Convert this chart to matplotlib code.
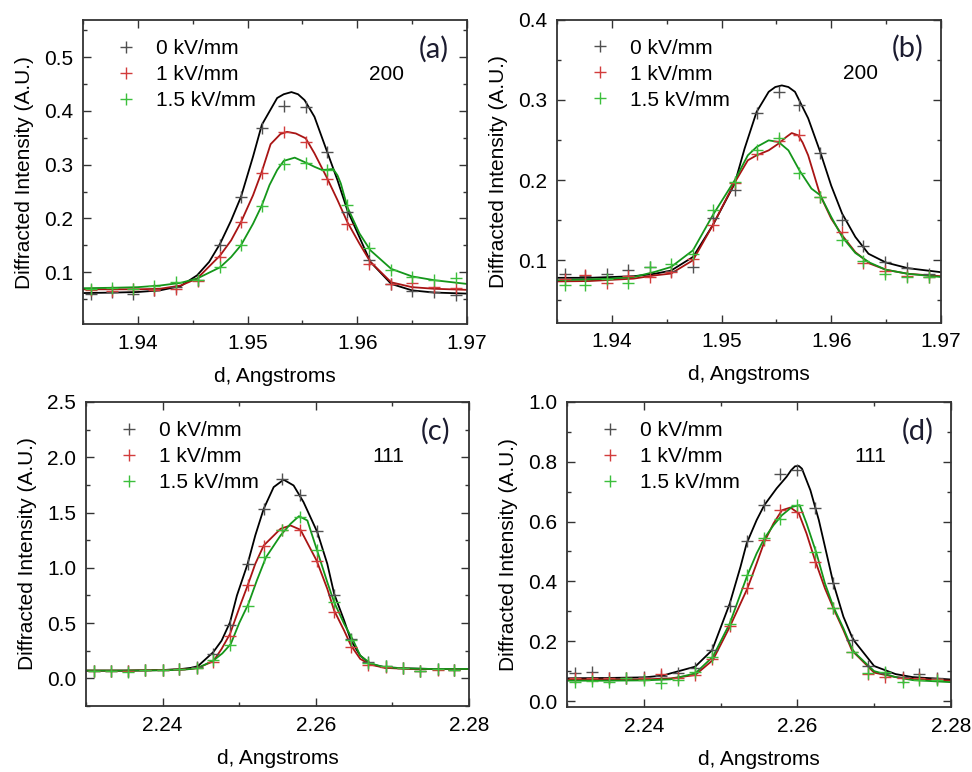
import matplotlib
matplotlib.use("Agg")
import matplotlib.pyplot as plt
from matplotlib.ticker import MultipleLocator

plt.rcParams["font.family"] = ["Liberation Sans", "DejaVu Sans"]

labels = ["0 kV/mm", "1 kV/mm", "1.5 kV/mm"]
panel_tags = ["(a)", "(b)", "(c)", "(d)"]
peak_names = ["200", "200", "111", "111"]

# ---- panel (a): 200 peak ----
a_x = [1.9357, 1.9376, 1.9396, 1.9415, 1.9435, 1.9455, 1.9475, 1.9494, 1.9513,
       1.9533, 1.9553, 1.9572, 1.9591, 1.9611, 1.9631, 1.9650, 1.9670, 1.9690]
a_0 = [0.060, 0.063, 0.059, 0.066, 0.072, 0.086, 0.150, 0.239, 0.369,
       0.410, 0.408, 0.323, 0.212, 0.123, 0.077, 0.065, 0.063, 0.058]
a_1 = [0.066, 0.065, 0.068, 0.067, 0.069, 0.084, 0.129, 0.193, 0.285,
       0.361, 0.343, 0.274, 0.189, 0.116, 0.078, 0.079, 0.072, 0.071]
a_15 = [0.069, 0.071, 0.069, 0.075, 0.081, 0.085, 0.109, 0.150, 0.223,
        0.301, 0.303, 0.290, 0.224, 0.144, 0.104, 0.091, 0.085, 0.089]

a_fit0_x = [1.935, 1.938, 1.940, 1.942, 1.9439, 1.9454, 1.9465, 1.9475, 1.9485, 1.9494,
            1.9505, 1.9513, 1.9520, 1.9527, 1.9533, 1.9540, 1.9546, 1.9552, 1.9561, 1.9572,
            1.9582, 1.9591, 1.9602, 1.9612, 1.9631, 1.965, 1.967, 1.970]
a_fit0_y = [0.061, 0.062, 0.063, 0.066, 0.074, 0.094, 0.119, 0.153, 0.196, 0.240,
            0.315, 0.374, 0.399, 0.424, 0.431, 0.435, 0.431, 0.420, 0.389, 0.327,
            0.271, 0.215, 0.165, 0.119, 0.078, 0.066, 0.062, 0.060]
a_fit1_x = [1.935, 1.938, 1.940, 1.942, 1.9439, 1.9454, 1.9475, 1.9485, 1.9494, 1.9505,
            1.9513, 1.9521, 1.9530, 1.9536, 1.9544, 1.9553, 1.9561, 1.9572, 1.9582, 1.9591,
            1.9602, 1.9612, 1.9631, 1.965, 1.967, 1.970]
a_fit1_y = [0.068, 0.068, 0.068, 0.069, 0.075, 0.088, 0.131, 0.159, 0.193, 0.243,
            0.287, 0.338, 0.357, 0.361, 0.358, 0.349, 0.321, 0.277, 0.234, 0.193,
            0.153, 0.119, 0.081, 0.072, 0.069, 0.067]
a_fit15_x = [1.935, 1.938, 1.940, 1.942, 1.9439, 1.9454, 1.9475, 1.9485, 1.9494, 1.9505,
             1.9513, 1.9520, 1.9527, 1.9533, 1.9543, 1.9555, 1.9561, 1.9568, 1.9574, 1.9578,
             1.9582, 1.9585, 1.9588, 1.9591, 1.9602, 1.9612, 1.9631, 1.965, 1.967, 1.970]
a_fit15_y = [0.070, 0.071, 0.072, 0.075, 0.080, 0.088, 0.109, 0.128, 0.150, 0.190,
             0.224, 0.262, 0.290, 0.307, 0.313, 0.302, 0.296, 0.290, 0.291, 0.292,
             0.280, 0.265, 0.243, 0.221, 0.172, 0.1405, 0.106, 0.092, 0.085, 0.078]

# ---- panel (b): 200 peak ----
b_x = [1.9357, 1.9376, 1.9396, 1.9415, 1.9435, 1.9454, 1.9474, 1.9492, 1.9512,
       1.9532, 1.9552, 1.9571, 1.9590, 1.9610, 1.9629, 1.9649, 1.9669, 1.9689]
b_0 = [0.083, 0.080, 0.0825, 0.088, 0.0915, 0.086, 0.092, 0.152, 0.188,
       0.284, 0.310, 0.293, 0.234, 0.150, 0.118, 0.098, 0.090, 0.083]
b_1 = [0.077, 0.082, 0.072, 0.080, 0.079, 0.085, 0.102, 0.144, 0.196,
       0.232, 0.249, 0.256, 0.179, 0.135, 0.096, 0.087, 0.080, 0.079]
b_15 = [0.069, 0.069, 0.076, 0.071, 0.092, 0.095, 0.108, 0.162, 0.198,
        0.238, 0.252, 0.209, 0.179, 0.125, 0.099, 0.083, 0.079, 0.079]

b_fit0_x = [1.935, 1.938, 1.940, 1.942, 1.9439, 1.9454, 1.9474, 1.9492, 1.9512, 1.9521,
            1.9532, 1.9543, 1.9549, 1.9555, 1.9561, 1.9567, 1.9579, 1.9590, 1.9600, 1.9610,
            1.9622, 1.9634, 1.965, 1.967, 1.970]
b_fit0_y = [0.078, 0.078, 0.079, 0.080, 0.083, 0.087, 0.104, 0.1435, 0.1955, 0.239,
            0.285, 0.310, 0.316, 0.318, 0.316, 0.310, 0.277, 0.235, 0.193, 0.158,
            0.129, 0.108, 0.097, 0.090, 0.085]
b_fit1_x = [1.935, 1.938, 1.940, 1.942, 1.9439, 1.9454, 1.9474, 1.9492, 1.9512, 1.9524,
            1.9532, 1.9543, 1.9552, 1.9559, 1.9564, 1.9570, 1.9574, 1.9579, 1.9590, 1.9600,
            1.9610, 1.9622, 1.9635, 1.965, 1.967, 1.970]
b_fit1_y = [0.0735, 0.074, 0.0755, 0.077, 0.081, 0.0833, 0.0999, 0.1435, 0.1968, 0.2246,
            0.2308, 0.237, 0.2454, 0.2536, 0.2586, 0.2557, 0.2466, 0.2308, 0.181, 0.1519,
            0.131, 0.110, 0.0958, 0.088, 0.083, 0.080]
b_fit15_x = [1.935, 1.938, 1.940, 1.942, 1.9439, 1.9454, 1.9474, 1.9492, 1.9512, 1.9524,
             1.9532, 1.9543, 1.9552, 1.9561, 1.9571, 1.9582, 1.9590, 1.9600, 1.9610, 1.9622,
             1.9635, 1.965, 1.967, 1.970]
b_fit15_y = [0.075, 0.076, 0.077, 0.079, 0.0853, 0.0915, 0.1123, 0.156, 0.1996, 0.2308,
             0.2412, 0.2495, 0.2474, 0.237, 0.2121, 0.1893, 0.181, 0.154, 0.129, 0.109,
             0.097, 0.088, 0.083, 0.079]

# ---- panel (c): 111 peak ----
c_x = [2.2310, 2.2332, 2.2355, 2.2377, 2.2400, 2.2422, 2.2445, 2.2466, 2.2488, 2.2511, 2.2532,
       2.2556, 2.2579, 2.2601, 2.2624, 2.2646, 2.2668, 2.2691, 2.2714, 2.2736, 2.2759, 2.2781]
c_0 = [0.07, 0.07, 0.065, 0.08, 0.08, 0.085, 0.106, 0.221, 0.484, 1.030, 1.528,
       1.806, 1.661, 1.329, 0.758, 0.357, 0.15, 0.11, 0.09, 0.07, 0.085, 0.08]
c_1 = [0.07, 0.07, 0.065, 0.08, 0.08, 0.085, 0.09, 0.145, 0.387, 0.840, 1.199,
       1.344, 1.344, 1.060, 0.598, 0.281, 0.12, 0.10, 0.09, 0.07, 0.08, 0.08]
c_15 = [0.07, 0.07, 0.06, 0.08, 0.08, 0.085, 0.09, 0.167, 0.302, 0.659, 1.096,
        1.338, 1.458, 1.157, 0.688, 0.348, 0.14, 0.11, 0.09, 0.07, 0.085, 0.08]

c_fit0_x = [2.230, 2.235, 2.240, 2.2425, 2.2437, 2.2446, 2.2466, 2.2477, 2.2488, 2.2497,
            2.2511, 2.2521, 2.2532, 2.2545, 2.2558, 2.2571, 2.2584, 2.2602, 2.2615, 2.2624,
            2.2637, 2.2646, 2.2658, 2.2671, 2.269, 2.272, 2.275, 2.280]
c_fit0_y = [0.07, 0.07, 0.075, 0.085, 0.095, 0.11, 0.236, 0.341, 0.507, 0.749,
            1.036, 1.293, 1.534, 1.730, 1.797, 1.745, 1.594, 1.322, 1.036, 0.764,
            0.523, 0.341, 0.206, 0.130, 0.10, 0.09, 0.085, 0.085]
c_fit1_x = [2.230, 2.235, 2.240, 2.2425, 2.2437, 2.2446, 2.2466, 2.2477, 2.2488, 2.2502,
            2.2511, 2.2521, 2.2532, 2.2554, 2.2567, 2.2580, 2.2601, 2.2615, 2.2624, 2.2637,
            2.2646, 2.2658, 2.2671, 2.269, 2.272, 2.275, 2.280]
c_fit1_y = [0.07, 0.07, 0.075, 0.08, 0.085, 0.095, 0.154, 0.266, 0.402, 0.674,
            0.840, 1.036, 1.202, 1.353, 1.383, 1.344, 1.066, 0.810, 0.613, 0.432,
            0.296, 0.176, 0.125, 0.095, 0.085, 0.085, 0.085]
c_fit15_x = [2.230, 2.235, 2.240, 2.2425, 2.2437, 2.2446, 2.2466, 2.2478, 2.2489, 2.2500,
             2.2512, 2.2523, 2.2535, 2.2554, 2.2567, 2.2578, 2.2589, 2.2601, 2.2615, 2.2624,
             2.2637, 2.2649, 2.2658, 2.2671, 2.269, 2.272, 2.275, 2.280]
c_fit15_y = [0.07, 0.07, 0.073, 0.078, 0.085, 0.094, 0.160, 0.226, 0.311, 0.500,
             0.674, 0.885, 1.096, 1.293, 1.398, 1.467, 1.428, 1.172, 0.870, 0.688,
             0.493, 0.341, 0.206, 0.136, 0.10, 0.09, 0.085, 0.085]

# ---- panel (d): 111 peak ----
d_x = [2.2311, 2.2333, 2.2355, 2.2377, 2.2400, 2.2422, 2.2444, 2.2467, 2.2489, 2.2512, 2.2535,
       2.2557, 2.2578, 2.2600, 2.2623, 2.2647, 2.2671, 2.2692, 2.2714, 2.2737, 2.2759, 2.2782]
d_0 = [0.0925, 0.096, 0.076, 0.078, 0.081, 0.085, 0.0925, 0.109, 0.170, 0.317, 0.535,
       0.657, 0.758, 0.772, 0.646, 0.393, 0.204, 0.117, 0.0925, 0.081, 0.089, 0.078]
d_1 = [0.078, 0.076, 0.078, 0.076, 0.076, 0.089, 0.076, 0.087, 0.139, 0.252, 0.379,
       0.538, 0.640, 0.632, 0.466, 0.310, 0.165, 0.089, 0.081, 0.076, 0.076, 0.073]
d_15 = [0.065, 0.067, 0.063, 0.076, 0.070, 0.060, 0.070, 0.098, 0.148, 0.257, 0.421,
        0.544, 0.610, 0.655, 0.499, 0.310, 0.165, 0.095, 0.098, 0.063, 0.070, 0.070]

d_fit0_x = [2.230, 2.235, 2.240, 2.2425, 2.2435, 2.2467, 2.2489, 2.2512, 2.2526, 2.2534,
            2.2547, 2.2557, 2.2573, 2.2586, 2.2592, 2.2597, 2.2602, 2.2606, 2.2617, 2.2628,
            2.2636, 2.2647, 2.2660, 2.2671, 2.2675, 2.270, 2.2728, 2.275, 2.280]
d_fit0_y = [0.076, 0.077, 0.079, 0.085, 0.0925, 0.115, 0.170, 0.326, 0.449, 0.527,
            0.605, 0.655, 0.711, 0.750, 0.772, 0.785, 0.786, 0.777, 0.705, 0.605,
            0.516, 0.393, 0.282, 0.215, 0.198, 0.117, 0.09, 0.08, 0.072]
d_fit1_x = [2.230, 2.235, 2.240, 2.2435, 2.2467, 2.2490, 2.2512, 2.2535, 2.2547, 2.2557,
            2.2569, 2.2580, 2.2591, 2.2602, 2.2612, 2.2623, 2.2636, 2.2647, 2.2660, 2.2671,
            2.2675, 2.270, 2.2728, 2.275, 2.280]
d_fit1_y = [0.072, 0.072, 0.072, 0.0758, 0.0869, 0.137, 0.248, 0.3765, 0.46, 0.532,
            0.594, 0.638, 0.647, 0.627, 0.560, 0.471, 0.3765, 0.310, 0.237, 0.170,
            0.159, 0.095, 0.08, 0.074, 0.068]
d_fit15_x = [2.230, 2.235, 2.240, 2.2435, 2.2467, 2.2490, 2.2512, 2.2535, 2.2547, 2.2557,
             2.2569, 2.2580, 2.2593, 2.2603, 2.2612, 2.2625, 2.2636, 2.2647, 2.2660, 2.2671,
             2.2675, 2.270, 2.2728, 2.275, 2.280]
d_fit15_y = [0.068, 0.068, 0.069, 0.0725, 0.0925, 0.148, 0.2596, 0.421, 0.4935, 0.5436,
             0.588, 0.6214, 0.649, 0.655, 0.594, 0.4935, 0.393, 0.315, 0.243, 0.176,
             0.161, 0.10, 0.08, 0.07, 0.063]

marker_colors = ["#505050", "#d23c3c", "#3cbf3c"]
line_colors = ["#000000", "#a81414", "#14961a"]

panels = [
    dict(pos=[0.0854, 0.580, 0.395, 0.394], x=a_x, pts=[a_0, a_1, a_15],
         fits=[(a_fit0_x, a_fit0_y), (a_fit1_x, a_fit1_y), (a_fit15_x, a_fit15_y)],
         xlim=(1.935, 1.97), ylim=(0.003, 0.569), xmaj=0.01, xmin=0.005, ymaj=0.1, ymin=0.05),
    dict(pos=[0.573, 0.582, 0.395, 0.3925], x=b_x, pts=[b_0, b_1, b_15],
         fits=[(b_fit0_x, b_fit0_y), (b_fit1_x, b_fit1_y), (b_fit15_x, b_fit15_y)],
         xlim=(1.935, 1.97), ylim=(0.022, 0.4), xmaj=0.01, xmin=0.005, ymaj=0.1, ymin=0.05),
    dict(pos=[0.0885, 0.0855, 0.394, 0.3938], x=c_x, pts=[c_0, c_1, c_15],
         fits=[(c_fit0_x, c_fit0_y), (c_fit1_x, c_fit1_y), (c_fit15_x, c_fit15_y)],
         xlim=(2.23, 2.28), ylim=(-0.25, 2.5), xmaj=0.02, xmin=0.01, ymaj=0.5, ymin=0.25),
    dict(pos=[0.5833, 0.0842, 0.395, 0.3951], x=d_x, pts=[d_0, d_1, d_15],
         fits=[(d_fit0_x, d_fit0_y), (d_fit1_x, d_fit1_y), (d_fit15_x, d_fit15_y)],
         xlim=(2.23, 2.28), ylim=(-0.02, 1.0), xmaj=0.02, xmin=0.01, ymaj=0.2, ymin=0.1),
]

fig = plt.figure(figsize=(9.72, 7.72), dpi=100)

for i, p in enumerate(panels):
    ax = fig.add_axes(p["pos"])
    handles = []
    for k in range(3):
        fx, fy = p["fits"][k]
        ax.plot(fx, fy, color=line_colors[k], lw=1.3, zorder=2)
        h, = ax.plot(p["x"], p["pts"][k], ls="none", marker="+", ms=9, mew=1.0,
                     color=marker_colors[k], zorder=3)
        handles.append(h)

    ax.set_xlim(*p["xlim"])
    ax.set_ylim(*p["ylim"])
    ax.xaxis.set_major_locator(MultipleLocator(p["xmaj"]))
    ax.xaxis.set_minor_locator(MultipleLocator(p["xmin"]))
    ax.yaxis.set_major_locator(MultipleLocator(p["ymaj"]))
    ax.yaxis.set_minor_locator(MultipleLocator(p["ymin"]))
    ax.xaxis.set_major_formatter(plt.FormatStrFormatter("%.2f"))
    ax.yaxis.set_major_formatter(plt.FormatStrFormatter("%.1f"))
    ax.tick_params(which="both", direction="in", top=True, right=True, width=1.0,
                   color="#333333", labelsize=15)
    ax.tick_params(which="major", length=6, pad=7)
    ax.tick_params(which="minor", length=3)
    for s in ax.spines.values():
        s.set_linewidth(1.3)
        s.set_color("#333333")

    ax.set_xlabel("d, Angstroms", fontsize=15, labelpad=10)
    ax.set_ylabel("Diffracted Intensity (A.U.)", fontsize=15, labelpad=7)

    ax.legend(handles, labels, loc="upper left", bbox_to_anchor=(0.058, 0.965),
              frameon=False, fontsize=15, handlelength=1.2, handletextpad=0.85,
              labelspacing=0.34, borderaxespad=0, numpoints=1)

    ax.text(0.79, 0.822, peak_names[i], transform=ax.transAxes, fontsize=15,
            ha="center", va="center")
    ax.text(0.913, 0.905, panel_tags[i], transform=ax.transAxes, fontsize=21,
            ha="center", va="center", color="#1c1c30", family=["Lato", "DejaVu Sans"])

fig.savefig("out.png", dpi=100)
